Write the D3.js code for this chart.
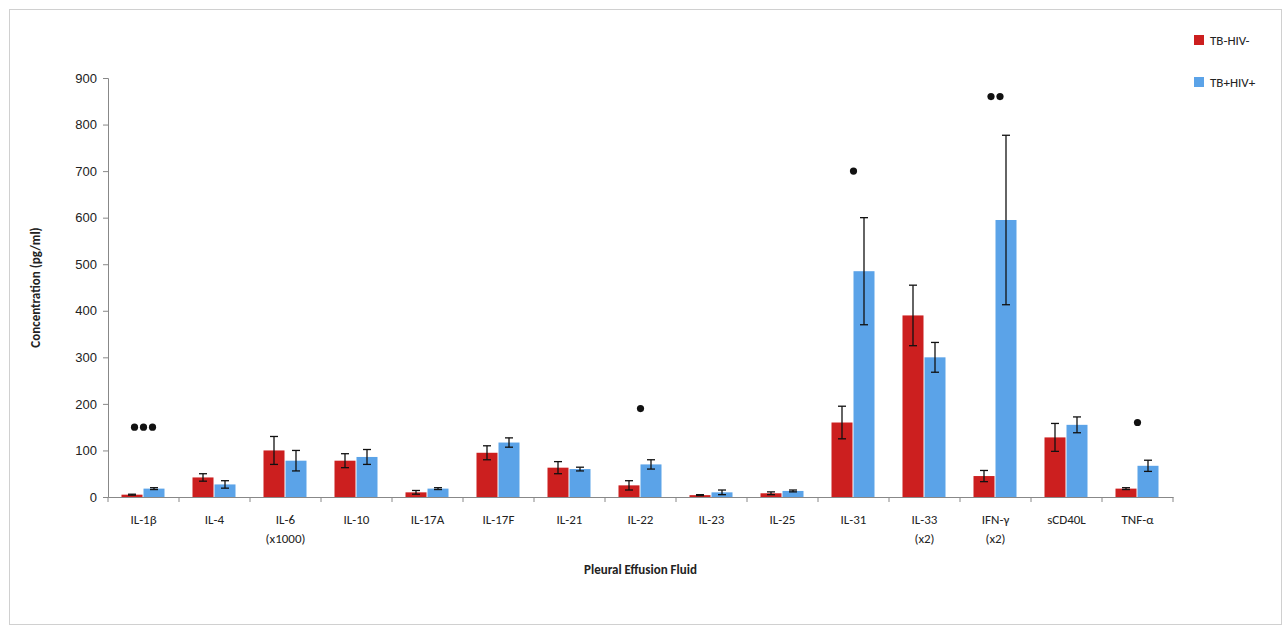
<!DOCTYPE html>
<html><head><meta charset="utf-8">
<script src="https://cdn.jsdelivr.net/npm/d3@7"></script>
<style>body{margin:0;background:#fff}svg{font-family:Calibri,Carlito,"Open Sans",sans-serif}</style>
</head><body><svg id="c" width="1285" height="630"></svg>
<script>
const categories = ["IL-1β","IL-4","IL-6\n(x1000)","IL-10","IL-17A","IL-17F","IL-21","IL-22","IL-23","IL-25","IL-31","IL-33\n(x2)","IFN-γ\n(x2)","sCD40L","TNF-α"];
const hivNeg = [5,42,100,78,10,95,63,25,4,8,160,390,45,128,18];
const hivNegErr = [1,8,30,15,4,15,13,10,1,3,35,65,12,30,2];
const hivPos = [18,27,78,86,18,117,60,70,10,13,485,300,595,155,67];
const hivPosErr = [2,8,22,16,2,10,4,10,5,2,115,32,182,17,12];
const stars = [3,0,0,0,0,0,0,1,0,0,1,0,2,0,1];
const starY = [150,0,0,0,0,0,0,190,0,0,700,0,860,0,160];
const yTicks = [0,100,200,300,400,500,600,700,800,900];

const svg = d3.select("#c");
svg.append("rect").attr("x",9.5).attr("y",9.5).attr("width",1272).attr("height",615).attr("fill","none").attr("stroke","#d0d0d0");
const m = {l:108,r:1173,t:78,b:497};
const x = d3.scaleBand().domain(categories).range([m.l,m.r]);
const y = d3.scaleLinear().domain([0,900]).range([m.b,m.t]);
const bw = 21;

const ya = svg.append("g").attr("transform",`translate(${m.l},0)`)
  .call(d3.axisLeft(y).tickValues(yTicks).tickSize(5).tickPadding(6));
ya.selectAll("path,line").attr("stroke","#888");
ya.selectAll("text").attr("font-size",13).attr("fill","#222");

const xa = svg.append("g").attr("transform",`translate(0,${m.b})`)
  .call(d3.axisBottom(x).tickSize(0).tickFormat(""));
xa.select("path").attr("stroke","#888");
svg.append("g").selectAll("line").data(d3.range(categories.length+1)).join("line")
  .attr("x1",i=>m.l+i*x.step()).attr("x2",i=>m.l+i*x.step()).attr("y1",m.b).attr("y2",m.b+5).attr("stroke","#888");
categories.forEach(c=>{
  c.split("\n").forEach((s,j)=>svg.append("text").attr("x",x(c)+x.bandwidth()/2).attr("y",m.b+27+j*19)
    .attr("text-anchor","middle").attr("font-size",13).attr("fill","#222").text(s));
});

function series(vals, errs, color, off){
  const g = svg.append("g");
  g.selectAll("rect").data(vals).join("rect")
    .attr("x",(d,i)=>x(categories[i])+x.bandwidth()/2+off).attr("width",bw)
    .attr("y",d=>y(d)).attr("height",d=>m.b-y(d)).attr("fill",color);
  vals.forEach((v,i)=>{
    const cx = x(categories[i])+x.bandwidth()/2+off+bw/2;
    const e = errs[i];
    g.append("line").attr("x1",cx).attr("x2",cx).attr("y1",y(v+e)).attr("y2",y(Math.max(0,v-e))).attr("stroke","#111").attr("stroke-width",1.3);
    [v+e,Math.max(0,v-e)].forEach(t=>g.append("line").attr("x1",cx-4).attr("x2",cx+4).attr("y1",y(t)).attr("y2",y(t)).attr("stroke","#111").attr("stroke-width",1.3));
  });
}
series(hivNeg,hivNegErr,"#cc1f1f",-bw-1);
series(hivPos,hivPosErr,"#5ba3e8",0);

stars.forEach((n,i)=>{
  if(!n) return;
  const cx = x(categories[i])+x.bandwidth()/2;
  d3.range(n).forEach(k=>svg.append("circle").attr("cx",cx+(k-(n-1)/2)*9).attr("cy",y(starY[i]))
    .attr("r",3.6).attr("fill","#111"));
});

svg.append("text").attr("transform",`translate(40,${(m.t+m.b)/2}) rotate(-90)`).attr("text-anchor","middle")
  .attr("font-size",13).attr("font-weight","bold").attr("fill","#222").text("Concentration (pg/ml)");
svg.append("text").attr("x",(m.l+m.r)/2).attr("y",574).attr("text-anchor","middle")
  .attr("font-size",13).attr("font-weight","bold").attr("fill","#222").text("Pleural Effusion Fluid");

const legend = [["TB-HIV-","#cc1f1f",40],["TB+HIV+","#5ba3e8",82]];
legend.forEach(([t,c,ly])=>{
  svg.append("rect").attr("x",1194).attr("y",ly-5).attr("width",10).attr("height",10).attr("fill",c);
  svg.append("text").attr("x",1210).attr("y",ly+5).attr("font-size",13).attr("fill","#222").text(t);
});
</script></body></html>
